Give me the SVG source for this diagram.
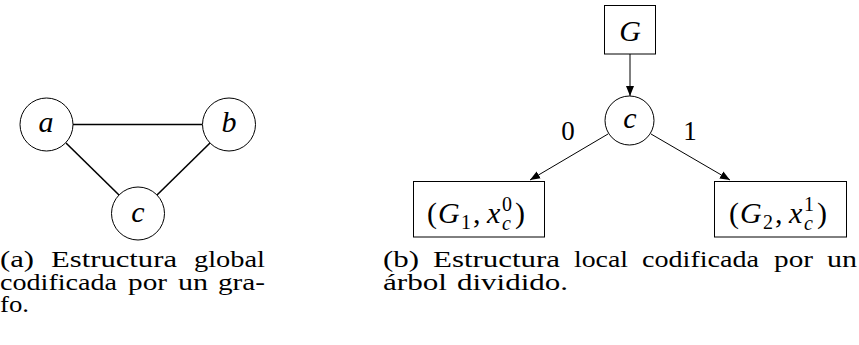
<svg xmlns="http://www.w3.org/2000/svg" width="859" height="345" viewBox="0 0 859 345" font-family="'Liberation Serif', 'Times New Roman', 'DejaVu Serif', serif">
<style>
.node{fill:none;stroke:#000;stroke-width:1}
.edge{stroke:#000;stroke-width:1.6;fill:none}
.arr{stroke:#000;stroke-width:1;fill:none}
text{fill:#000}
.m{font-style:italic;font-size:30px}
.r{font-size:27px}
.br{font-size:30px}
.sc{font-size:20px}
.si{font-size:20px;font-style:italic}
.cap{font-size:24px}
</style>
<defs>
<marker id="ah" viewBox="0 0 10 10" refX="10" refY="5" markerWidth="10" markerHeight="10" markerUnits="userSpaceOnUse" orient="auto">
<path d="M0,1 L10,5 L0,9 Z" fill="#000"/>
</marker>
</defs>
<rect width="859" height="345" fill="#fff"/>
<g id="connectors">
<line class="edge" x1="73" y1="124.5" x2="202" y2="124.5"/>
<line class="edge" x1="66" y1="143" x2="119" y2="195"/>
<line class="edge" x1="210" y1="143" x2="157" y2="195"/>
<line class="arr" x1="630" y1="54" x2="630" y2="96" marker-end="url(#ah)"/>
<line class="arr" x1="608" y1="134" x2="530" y2="180" marker-end="url(#ah)"/>
<line class="arr" x1="651" y1="134" x2="730" y2="180" marker-end="url(#ah)"/>
<text class="r" x="568" y="140" text-anchor="middle">0</text>
<text class="r" x="690" y="140" text-anchor="middle">1</text>
</g>
<g id="node-a">
<circle class="node" cx="46.5" cy="124.5" r="26.5"/>
<text class="m" x="46" y="132" text-anchor="middle">a</text>
</g>
<g id="node-b">
<circle class="node" cx="229" cy="124.5" r="26.5"/>
<text class="m" x="229" y="132" text-anchor="middle">b</text>
</g>
<g id="node-c">
<circle class="node" cx="138" cy="213.5" r="26.5"/>
<text class="m" x="138" y="222" text-anchor="middle">c</text>
</g>
<g id="node-G">
<rect class="node" x="604.5" y="5.5" width="51" height="48.5"/>
<text class="m" x="630" y="41" text-anchor="middle">G</text>
</g>
<g id="node-c2">
<circle class="node" cx="629.5" cy="120.5" r="24.5"/>
<text class="m" x="630" y="128" text-anchor="middle">c</text>
</g>
<g id="node-G1">
<rect class="node" x="413.5" y="181.5" width="131" height="55.5"/>
<text class="br" x="427" y="223">(</text>
<text class="m" x="438" y="223">G</text>
<text class="sc" x="461" y="229">1</text>
<text class="br" x="473" y="223">,</text>
<text class="m" x="487" y="223">x</text>
<text class="sc" x="502" y="211">0</text>
<text class="si" x="502" y="230">c</text>
<text class="br" x="515" y="223">)</text>
</g>
<g id="node-G2">
<rect class="node" x="714.5" y="181.5" width="132" height="55.5"/>
<text class="br" x="729" y="223">(</text>
<text class="m" x="740" y="223">G</text>
<text class="sc" x="763" y="229">2</text>
<text class="br" x="775" y="223">,</text>
<text class="m" x="789" y="223">x</text>
<text class="sc" x="804" y="211">1</text>
<text class="si" x="804" y="230">c</text>
<text class="br" x="817" y="223">)</text>
</g>
<g id="captions">
<text class="cap" x="0" y="267" textLength="34" lengthAdjust="spacingAndGlyphs">(a)</text>
<text class="cap" x="51" y="267" textLength="126" lengthAdjust="spacingAndGlyphs">Estructura</text>
<text class="cap" x="194" y="267" textLength="71" lengthAdjust="spacingAndGlyphs">global</text>
<text class="cap" x="0" y="289.5" textLength="117" lengthAdjust="spacingAndGlyphs">codificada</text>
<text class="cap" x="128" y="289.5" textLength="39" lengthAdjust="spacingAndGlyphs">por</text>
<text class="cap" x="178" y="289.5" textLength="30" lengthAdjust="spacingAndGlyphs">un</text>
<text class="cap" x="218" y="289.5" textLength="47" lengthAdjust="spacingAndGlyphs">gra-</text>
<text class="cap" x="0" y="312" textLength="29" lengthAdjust="spacingAndGlyphs">fo.</text>
<text class="cap" x="383" y="267" textLength="36" lengthAdjust="spacingAndGlyphs">(b)</text>
<text class="cap" x="433" y="267" textLength="127" lengthAdjust="spacingAndGlyphs">Estructura</text>
<text class="cap" x="574" y="267" textLength="54" lengthAdjust="spacingAndGlyphs">local</text>
<text class="cap" x="642" y="267" textLength="117" lengthAdjust="spacingAndGlyphs">codificada</text>
<text class="cap" x="774" y="267" textLength="39" lengthAdjust="spacingAndGlyphs">por</text>
<text class="cap" x="827" y="267" textLength="30" lengthAdjust="spacingAndGlyphs">un</text>
<text class="cap" x="383" y="289.5" textLength="64" lengthAdjust="spacingAndGlyphs">árbol</text>
<text class="cap" x="457" y="289.5" textLength="111" lengthAdjust="spacingAndGlyphs">dividido.</text>
</g>
</svg>
